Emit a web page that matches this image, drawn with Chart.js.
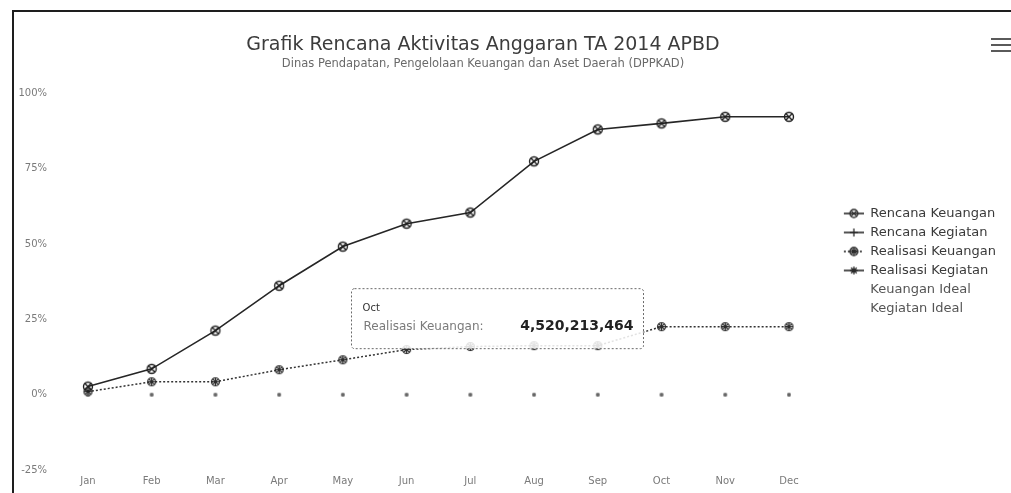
<!DOCTYPE html>
<html>
<head>
<meta charset="utf-8">
<title>Grafik Rencana Aktivitas Anggaran</title>
<script src="https://cdn.jsdelivr.net/npm/chart.js@4.4.1/dist/chart.umd.min.js"></script>
<style>
  html, body { margin: 0; padding: 0; background: #fff; overflow: hidden; }
  #wrap { position: relative; width: 1011px; height: 493px; }
  #frame { position: absolute; left: 12px; top: 10px; right: -4px; bottom: -4px;
           border-left: 2px solid #1e1e1e; border-top: 2px solid #1e1e1e; pointer-events: none; }
  .menu { position: absolute; left: 991px; width: 22px; height: 2px; background: #5a5a5a; }
</style>
</head>
<body>
<div id="wrap">
  <canvas id="grafik" width="1011" height="493"></canvas>
  <div id="frame"></div>
  <div class="menu" style="top:38px"></div>
  <div class="menu" style="top:44px"></div>
  <div class="menu" style="top:50px"></div>
</div>
<script>
// ---- data ----
const bulan = ['Jan', 'Feb', 'Mar', 'Apr', 'May', 'Jun', 'Jul', 'Aug', 'Sep', 'Oct', 'Nov', 'Dec'];

// total anggaran (Rp) used to express the keuangan series as percentages
const paguAnggaran = 20000000000;

// cumulative amounts in Rupiah
const rencanaKeuangan = [540000000, 1720000000, 4260000000, 7240000000, 9840000000, 11360000000,
                         12100000000, 15500000000, 17620000000, 18020000000, 18460000000, 18460000000];
const realisasiKeuangan = [200000000, 860000000, 860000000, 1660000000, 2320000000, 3000000000,
                           3200000000, 3260000000, 3260000000, 4520213464, 4520213464, 4520213464];

// kegiatan progress in percent
const rencanaKegiatan = [0, 0, 0, 0, 0, 0, 0, 0, 0, 0, 0, 0];
const realisasiKegiatan = [0, 0, 0, 0, 0, 0, 0, 0, 0, 0, 0, 0];

// y axis ticks (percent)
const sumbuY = [-25, 0, 25, 50, 75, 100];

const judul = 'Grafik Rencana Aktivitas Anggaran TA 2014 APBD';
const subJudul = 'Dinas Pendapatan, Pengelolaan Keuangan dan Aset Daerah (DPPKAD)';
const bulanTooltip = 'Oct';

// ---- helpers ----
const FONT = "'DejaVu Sans', Verdana, sans-serif";
const persen = rp => rp / paguAnggaran * 100;
const rupiah = v => v.toLocaleString('en-US');

function drawSymbol(g, kind, cx, cy, r) {
  g.beginPath();
  if (kind === 'circleX' || kind === 'circleStar') {
    g.moveTo(cx + r, cy);
    g.arc(cx, cy, r, 0, Math.PI * 2);
    const d = r * 0.7;
    g.moveTo(cx - d, cy - d); g.lineTo(cx + d, cy + d);
    g.moveTo(cx + d, cy - d); g.lineTo(cx - d, cy + d);
    if (kind === 'circleStar') {
      g.moveTo(cx - r, cy); g.lineTo(cx + r, cy);
      g.moveTo(cx, cy - r); g.lineTo(cx, cy + r);
    }
  } else if (kind === 'star') {
    for (let k = 0; k < 4; k++) {
      const a = k * Math.PI / 4;
      g.moveTo(cx - r * Math.cos(a), cy - r * Math.sin(a));
      g.lineTo(cx + r * Math.cos(a), cy + r * Math.sin(a));
    }
  } else if (kind === 'plus') {
    g.moveTo(cx - r, cy); g.lineTo(cx + r, cy);
    g.moveTo(cx, cy - r); g.lineTo(cx, cy + r);
  }
  g.stroke();
}

function marker(kind, r, color, lw) {
  const s = Math.ceil(r * 2 + lw * 2 + 2);
  const c = document.createElement('canvas');
  c.width = s; c.height = s;
  const g = c.getContext('2d');
  g.strokeStyle = color; g.lineWidth = lw;
  drawSymbol(g, kind, s / 2, s / 2, r);
  return c;
}

// legend symbol: short line with the marker in the middle (left part left blank as spacing)
function legendSymbol(kind, dash) {
  const c = document.createElement('canvas');
  c.width = 37; c.height = 14;
  const g = c.getContext('2d');
  if (!kind) return c;
  g.strokeStyle = '#2a2a2a'; g.lineWidth = 1.6;
  if (dash) g.setLineDash(dash);
  g.beginPath(); g.moveTo(17, 7); g.lineTo(37, 7); g.stroke();
  g.setLineDash([]);
  g.lineWidth = 1.3;
  drawSymbol(g, kind, 27, 7, 4);
  return c;
}

// centre the title block over the plot
const posisiJudul = {
  id: 'posisiJudul',
  afterLayout(chart) {
    chart.boxes.forEach(b => {
      if (b.position === 'top' && b.options && typeof b.options.text === 'string') {
        const w = b.right - b.left;
        b.left = 483 - w / 2;
        b.right = b.left + w;
      }
    });
  }
};

// fixed tooltip for the Realisasi Keuangan point of the chosen month
const tooltipRealisasi = {
  id: 'tooltipRealisasi',
  afterDraw(chart) {
    const idx = bulan.indexOf(bulanTooltip);
    const el = chart.getDatasetMeta(2).data[idx];
    if (!el) return;
    const g = chart.ctx;
    const right = el.x - 18, w = 292, h = 60;
    const left = right - w, top = el.y - 38;
    g.save();
    g.fillStyle = 'rgba(255,255,255,0.86)';
    g.beginPath();
    g.roundRect(left, top, w, h, 3);
    g.fill();
    g.strokeStyle = '#6a6a6a';
    g.lineWidth = 1;
    g.setLineDash([2, 2]);
    g.stroke();
    g.setLineDash([]);
    g.textBaseline = 'middle';
    g.fillStyle = '#333';
    g.font = '10px ' + FONT;
    g.textAlign = 'left';
    g.fillText(bulanTooltip, left + 11, top + 20);
    g.fillStyle = '#7a7a7a';
    g.font = '12px ' + FONT;
    g.fillText(chart.data.datasets[2].label + ':', left + 12, el.y);
    g.fillStyle = '#222';
    g.font = 'bold 14px ' + FONT;
    g.textAlign = 'right';
    g.fillText(rupiah(realisasiKeuangan[idx]), right - 10, el.y);
    g.restore();
  }
};

const warnaGaris = '#262626';

new Chart(document.getElementById('grafik'), {
  type: 'line',
  data: {
    labels: bulan,
    datasets: [
      {
        label: 'Rencana Keuangan',
        data: rencanaKeuangan.map(persen),
        borderColor: warnaGaris, borderWidth: 1.6,
        pointStyle: marker('circleX', 4.5, '#1e1e1e', 1.4),
        legendSymbol: legendSymbol('circleX')
      },
      {
        label: 'Rencana Kegiatan',
        data: rencanaKegiatan,
        showLine: false, borderColor: '#666',
        pointStyle: marker('plus', 2, '#666', 1),
        legendSymbol: legendSymbol('plus')
      },
      {
        label: 'Realisasi Keuangan',
        data: realisasiKeuangan.map(persen),
        borderColor: '#333', borderWidth: 1.5, borderDash: [2, 2],
        pointStyle: marker('circleStar', 4, '#2a2a2a', 1.2),
        legendSymbol: legendSymbol('circleStar', [2, 2])
      },
      {
        label: 'Realisasi Kegiatan',
        data: realisasiKegiatan,
        showLine: false, borderColor: '#666',
        pointStyle: marker('star', 2, '#666', 1),
        legendSymbol: legendSymbol('star')
      },
      { label: 'Keuangan Ideal', data: [], hidden: true, legendSymbol: legendSymbol(null) },
      { label: 'Kegiatan Ideal', data: [], hidden: true, legendSymbol: legendSymbol(null) }
    ]
  },
  options: {
    responsive: false,
    animation: false,
    events: [],
    layout: { autoPadding: false, padding: { left: 9.5, right: 5, top: 30, bottom: 1 } },
    scales: {
      x: {
        offset: true,
        grid: { display: false, drawTicks: false },
        border: { display: false },
        ticks: { color: '#7a7a7a', font: { family: FONT, size: 10 }, padding: 5, autoSkip: false, maxRotation: 0 }
      },
      y: {
        min: sumbuY[0], max: sumbuY[sumbuY.length - 1],
        afterBuildTicks: axis => { axis.ticks = sumbuY.map(v => ({ value: v })); },
        grid: { display: false, drawTicks: false },
        border: { display: false },
        ticks: { color: '#7a7a7a', font: { family: FONT, size: 10 }, padding: 9, callback: v => v + '%' }
      }
    },
    plugins: {
      title: {
        display: true, text: judul, color: '#3c3c3c',
        font: { family: FONT, size: 19, weight: 'normal' },
        padding: { top: 4, bottom: 0 }
      },
      subtitle: {
        display: true, text: subJudul, color: '#6a6a6a',
        font: { family: FONT, size: 11.5 },
        padding: { top: 0, bottom: 23 }
      },
      legend: {
        position: 'right',
        labels: {
          usePointStyle: true, pointStyleWidth: 37, padding: 6,
          font: { family: FONT, size: 13 },
          generateLabels: chart => chart.data.datasets.map((ds, i) => ({
            text: ds.label, datasetIndex: i, hidden: false,
            pointStyle: ds.legendSymbol,
            fontColor: ds.hidden ? '#555' : '#3a3a3a',
            fillStyle: 'transparent', strokeStyle: 'transparent', lineWidth: 0
          }))
        }
      },
      tooltip: { enabled: false }
    }
  },
  plugins: [posisiJudul, tooltipRealisasi]
});
</script>
</body>
</html>
